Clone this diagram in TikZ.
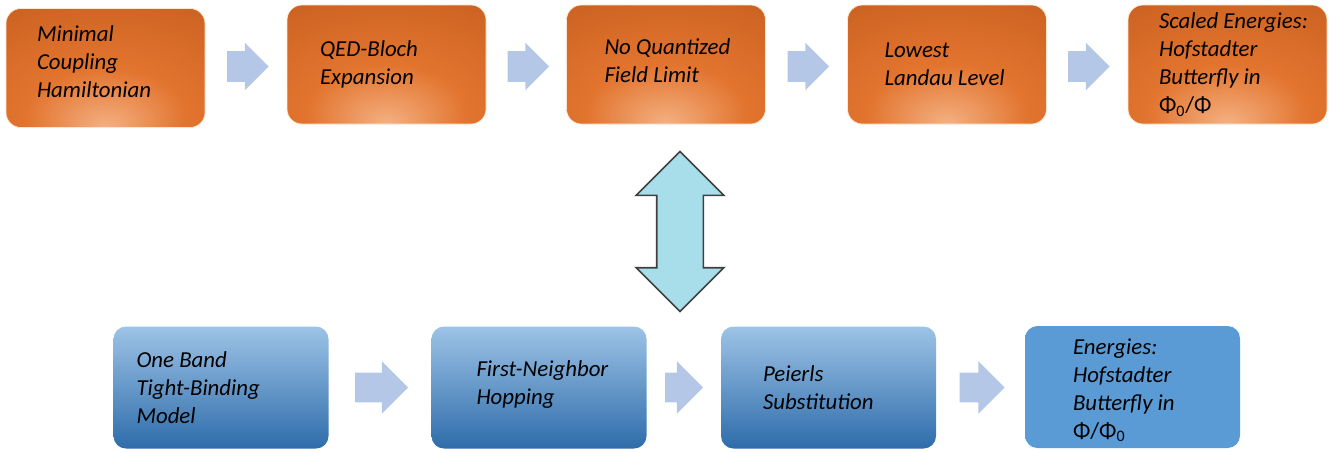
\documentclass[tikz,border=0pt]{standalone}
\usepackage{fontspec}
\setmainfont{Carlito}
\usetikzlibrary{shapes.arrows, positioning, calc}
\definecolor{glowlight}{RGB}{244,176,130}
\definecolor{glowmid}{RGB}{226,116,46}
\definecolor{glowedge}{RGB}{196,92,30}
\definecolor{glowdark}{RGB}{160,70,20}
\definecolor{bluetop}{RGB}{157,195,230}
\definecolor{bluebottom}{RGB}{46,108,170}
\definecolor{bluelast}{RGB}{91,155,213}
\definecolor{pfeilblau}{RGB}{180,199,231}
\definecolor{linkcyan}{RGB}{168,222,234}
\pgfdeclareradialshading{orangeglow}{\pgfpoint{0bp}{-25bp}}{%
    color(0bp)=(glowlight); color(20bp)=(glowmid); color(55bp)=(glowedge);
    color(88bp)=(glowdark); color(100bp)=(glowdark)}

\begin{document}
\begin{tikzpicture}[font=\itshape\fontsize{13}{16}\selectfont,
        topbox/.style={rounded corners=0.3cm, minimum width=3.98cm, minimum height=2.38cm,
                       shading=orangeglow, draw=white!80!orange, line width=0.4pt},
        botbox/.style={rounded corners=0.25cm, minimum width=4.3cm, minimum height=2.44cm,
                       top color=bluetop, bottom color=bluebottom},
        boxtext/.style={anchor=west, align=left, inner sep=0pt},
        toparrow/.style={single arrow, anchor=tail, fill=pfeilblau, inner xsep=0pt, inner ysep=0.3cm,
                         single arrow head extend=0.17cm, minimum height=0.83cm},
        botarrow/.style={single arrow, anchor=tail, fill=pfeilblau, inner xsep=0pt, inner ysep=0.29cm,
                         single arrow head extend=0.23cm, minimum height=#1},
        botarrow/.default=0.9cm
    ]
        \useasboundingbox (0,0) rectangle (26.8,-9.02);

        % upper row
        \node[topbox] (t1) at (2.11,-1.36)  {};
        \node[topbox] (t2) at (7.73,-1.29)  {};
        \node[topbox] (t3) at (13.32,-1.29) {};
        \node[topbox] (t4) at (18.94,-1.29) {};
        \node[topbox] (t5) at (24.55,-1.29) {};

        \node[boxtext] (t1txt) at ([xshift=0.62cm, yshift=0.12cm]t1.west) {Minimal\\Coupling\\Hamiltonian};
        \node[boxtext] (t2txt) at ([xshift=0.66cm]t2.west) {QED-Bloch\\Expansion};
        \node[boxtext] (t3txt) at ([xshift=0.76cm, yshift=0.07cm]t3.west) {No Quantized\\Field Limit};
        \node[boxtext] (t4txt) at ([xshift=0.74cm]t4.west) {Lowest\\Landau Level};
        \node[boxtext] (t5txt) at ([xshift=0.62cm]t5.west)
            {Scaled Energies:\\Hofstadter\\Butterfly in\\{\upshape Φ\textsubscript{0}/Φ}};

        \node[toparrow] (a12) at ([xshift=0.43cm, yshift=0.03cm]t1.east) {};
        \node[toparrow] (a23) at ([xshift=0.42cm, yshift=-0.04cm]t2.east) {};
        \node[toparrow] (a34) at ([xshift=0.43cm, yshift=-0.04cm]t3.east) {};
        \node[toparrow] (a45) at ([xshift=0.42cm, yshift=-0.04cm]t4.east) {};

        % lower row
        \node[botbox] (b1) at (4.42,-7.75)  {};
        \node[botbox] (b2) at (10.78,-7.75) {};
        \node[botbox] (b3) at (16.57,-7.75) {};
        \node[botbox, top color=bluelast, bottom color=bluelast] (b4) at (22.65,-7.74) {};

        \node[boxtext] (b1txt) at ([xshift=0.46cm]b1.west) {One Band\\Tight-Binding\\Model};
        \node[boxtext] (b2txt) at ([xshift=0.9cm, yshift=0.06cm]b2.west) {First-Neighbor\\Hopping};
        \node[boxtext] (b3txt) at ([xshift=0.84cm]b3.west) {Peierls\\Substitution};
        \node[boxtext] (b4txt) at ([xshift=0.96cm, yshift=-0.06cm]b4.west)
            {Energies:\\Hofstadter\\Butterfly in\\{\upshape Φ/Φ\textsubscript{0}}};

        \node[botarrow=1.06cm] (c12) at ([xshift=0.52cm]b1.east) {};
        \node[botarrow=0.76cm] (c23) at ([xshift=0.36cm]b2.east) {};
        \node[botarrow=0.9cm]  (c34) at ([xshift=0.46cm]b3.east) {};

        % link between the two rows
        \node[double arrow, rotate=90, minimum height=3.2cm, inner xsep=0pt, inner ysep=0.45cm,
              double arrow head extend=0.41cm,
              fill=linkcyan, draw=black!75, line width=0.9pt] (link) at (13.6,-4.63) {};
    \end{tikzpicture}
\end{document}
